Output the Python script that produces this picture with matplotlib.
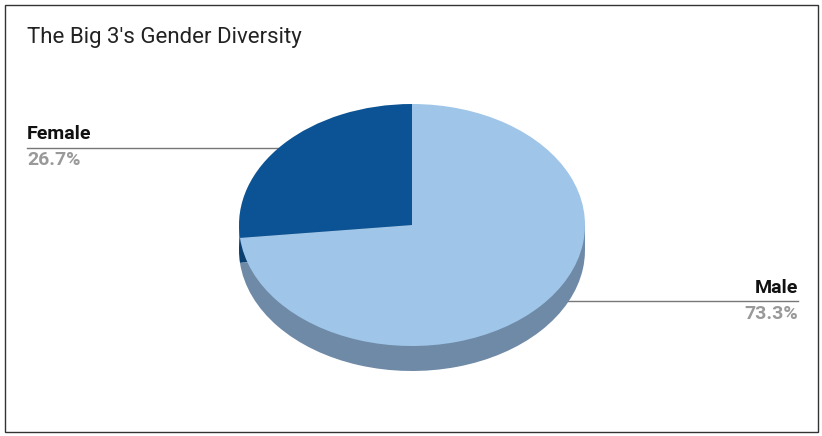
import matplotlib
matplotlib.use("Agg")
import matplotlib.pyplot as plt
from matplotlib.patches import Rectangle

labels = ["Female", "Male"]
values = [26.7, 73.3]
colors = ["#0b5394", "#9fc5e8"]
side_colors = ["#0a3f70", "#6f8aa6"]
title = "The Big 3's Gender Diversity"

W, H = 822, 436
fig = plt.figure(figsize=(W/100, H/100), dpi=100)
plt.rcParams['font.family'] = ['Roboto', 'DejaVu Sans']

bg = fig.add_axes([0, 0, 1, 1])
bg.set_xlim(0, W); bg.set_ylim(H, 0); bg.axis('off')
bg.add_patch(Rectangle((5, 5), 813, 427, fill=False, edgecolor='#333333', lw=1))

d = 25/121.0
ax = fig.add_axes([239/W, (H-371)/H, 346/W, 267/H])
ax.pie(values, colors=side_colors, startangle=90, counterclock=True,
       center=(0, -d), radius=1, frame=True)
ax.add_patch(Rectangle((-1, -d), 2, d, color=side_colors[1], zorder=0.5))
ax.pie(values, colors=colors, startangle=90, counterclock=True,
       center=(0, 0), radius=1, frame=True)
ax.set_aspect('auto')
ax.set_xlim(-1, 1); ax.set_ylim(-1-d, 1); ax.axis('off')

fig.text(27/W, 1-38/H, title, fontsize=16, color='#222222', va='center', ha='left')

bg.plot([27, 290], [148, 148], color='#777777', lw=1)
bg.plot([290], [148], 'o', color='#777777', ms=3)
bg.plot([533, 798], [301, 301], color='#777777', lw=1)
bg.plot([533], [301], 'o', color='#777777', ms=3)

fig.text(27/W, 1-134/H, f"{labels[0]}", fontsize=14, fontweight='bold', color='#111111', va='center', ha='left')
fig.text(27/W, 1-160/H, f"{values[0]:.1f}%", fontsize=14, fontweight='bold', color='#999999', va='center', ha='left')
fig.text(798/W, 1-288/H, f"{labels[1]}", fontsize=14, fontweight='bold', color='#111111', va='center', ha='right')
fig.text(798/W, 1-314/H, f"{values[1]:.1f}%", fontsize=14, fontweight='bold', color='#999999', va='center', ha='right')

fig.savefig("out.png", dpi=100)
